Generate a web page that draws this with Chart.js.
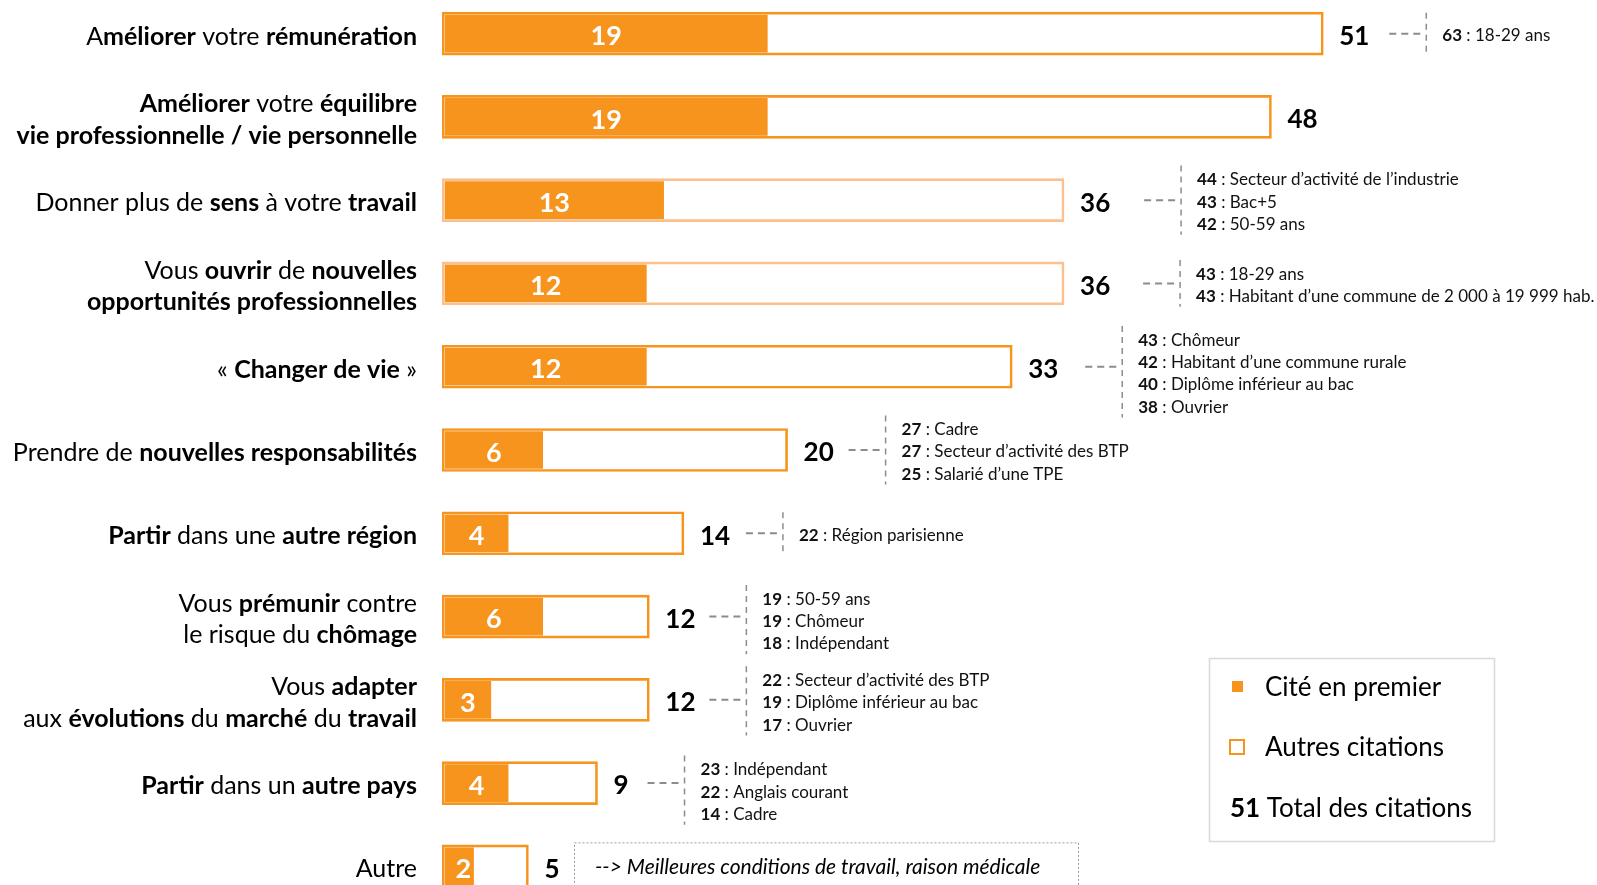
<!DOCTYPE html>
<html>
<head>
<meta charset="utf-8">
<script src="https://cdn.jsdelivr.net/npm/chart.js@4.4.1/dist/chart.umd.min.js"></script>
<style>
  html, body { margin: 0; padding: 0; background: #fff; overflow: hidden; }
  #wrap { position: absolute; left: 0; top: -8px; width: 1597px; height: 916px; }
</style>
</head>
<body>
<div id="wrap"><canvas id="chart"></canvas></div>
<script>
// ** ... ** marks the bold parts of each label
var categories = [
  'A**méliorer** votre **rémunération**',
  ['**Améliorer** votre **équilibre**', '**vie professionnelle / vie personnelle**'],
  'Donner plus de **sens** à votre **travail**',
  ['Vous **ouvrir** de **nouvelles**', '**opportunités professionnelles**'],
  '« **Changer de vie** »',
  'Prendre de **nouvelles responsabilités**',
  '**Partir** dans une **autre région**',
  ['Vous **prémunir** contre', 'le risque du **chômage**'],
  ['Vous **adapter**', 'aux **évolutions** du **marché** du **travail**'],
  '**Partir** dans un **autre pays**',
  'Autre'
];
var premier = [19, 19, 13, 12, 12, 6, 4, 6, 3, 4, 2];
var totals = [51, 48, 36, 36, 33, 20, 14, 12, 12, 9, 5];
var notes = [
  [[63, '18-29 ans']],
  [],
  [[44, 'Secteur d’activité de l’industrie'], [43, 'Bac+5'], [42, '50-59 ans']],
  [[43, '18-29 ans'], [43, 'Habitant d’une commune de 2 000 à 19 999 hab.']],
  [[43, 'Chômeur'], [42, 'Habitant d’une commune rurale'], [40, 'Diplôme inférieur au bac'], [38, 'Ouvrier']],
  [[27, 'Cadre'], [27, 'Secteur d’activité des BTP'], [25, 'Salarié d’une TPE']],
  [[22, 'Région parisienne']],
  [[19, '50-59 ans'], [19, 'Chômeur'], [18, 'Indépendant']],
  [[22, 'Secteur d’activité des BTP'], [19, 'Diplôme inférieur au bac'], [17, 'Ouvrier']],
  [[23, 'Indépendant'], [22, 'Anglais courant'], [14, 'Cadre']],
  []
];
var autreNote = '--> Meilleures conditions de travail, raison médicale';
var legendLabels = ['Cité en premier', 'Autres citations', 'Total des citations'];

var ORANGE = '#F7941D';
var PEACH = '#FBC08C';
var FONT = 'Lato, "Open Sans", sans-serif';
var TOP = 8; // the canvas starts 8px above the page
// where each note block sits: gap after the bar end, and vertical shift
var noteOffset = [66, 0, 80, 79, 73, 61, 62, 60, 60, 50, 0];
var noteShift = [0, 0, 0, 0, 5, 0, 0, 3, 1, 7, 0];
var outlineColors = [ORANGE, ORANGE, PEACH, PEACH, ORANGE, ORANGE, ORANGE, ORANGE, ORANGE, ORANGE, ORANGE];

function drawRich(ctx, line, xRight, y, size) {
  var parts = line.split('**');
  var widths = parts.map(function (p, k) {
    ctx.font = (k % 2 ? 'bold ' : '') + size + 'px ' + FONT;
    return ctx.measureText(p).width;
  });
  var x = xRight - widths.reduce(function (a, b) { return a + b; }, 0);
  ctx.textAlign = 'left';
  parts.forEach(function (p, k) {
    ctx.font = (k % 2 ? 'bold ' : '') + size + 'px ' + FONT;
    ctx.fillText(p, x, y);
    x += widths[k];
  });
}

function line(ctx, x0, y0, x1, y1) {
  ctx.beginPath();
  ctx.moveTo(x0, y0);
  ctx.lineTo(x1, y1);
  ctx.stroke();
}

var labelsPlugin = {
  id: 'labels',
  afterDatasetsDraw: function (chart) {
    var ctx = chart.ctx;
    var xs = chart.scales.x, ys = chart.scales.y;
    ctx.save();
    ctx.textBaseline = 'middle';

    categories.forEach(function (cat, i) {
      var yc = ys.getPixelForValue(i);
      var lines = [].concat(cat);
      ctx.fillStyle = '#000';
      lines.forEach(function (l, k) {
        drawRich(ctx, l, 417, yc + 3 + (k - (lines.length - 1) / 2) * 31.5, 25);
      });

      // first-cited value inside the orange bar
      var x0 = xs.getPixelForValue(0), x1 = xs.getPixelForValue(premier[i]);
      ctx.fillStyle = '#fff';
      ctx.font = 'bold 27px ' + FONT;
      ctx.textAlign = 'center';
      ctx.fillText(premier[i], (x0 + x1) / 2 + (i === 10 ? 4 : 0), yc + 3);

      // total after the bar
      var xe = xs.getPixelForValue(totals[i]);
      ctx.fillStyle = '#000';
      ctx.font = 'bold 26px ' + FONT;
      ctx.textAlign = 'left';
      ctx.fillText(totals[i], xe + 16, yc + 3);

      var list = notes[i];
      if (list.length) {
        var ds = xe + noteOffset[i];
        var vx = ds + 37;
        var yn = yc + noteShift[i];
        var half = Math.max(list.length * 11.2 + 1, 21);
        ctx.strokeStyle = '#8c8c8c';
        ctx.lineWidth = 2;
        ctx.setLineDash([7, 5]);
        line(ctx, ds, yc, ds + 33, yc);
        ctx.lineWidth = 1.5;
        ctx.setLineDash([6, 5]);
        line(ctx, vx, yn - half, vx, yn + half);
        ctx.setLineDash([]);
        list.forEach(function (n, k) {
          var ty = yn + 2 + (k - (list.length - 1) / 2) * 22.4;
          ctx.fillStyle = '#111';
          ctx.font = 'bold 17px ' + FONT;
          ctx.fillText(n[0], vx + 16, ty);
          var w = ctx.measureText(n[0]).width;
          ctx.font = '17px ' + FONT;
          ctx.fillText(' : ' + n[1], vx + 16 + w, ty);
        });
      }
    });

    // dotted box for "Autre"
    var yl = ys.getPixelForValue(categories.length - 1);
    ctx.strokeStyle = '#999';
    ctx.lineWidth = 1;
    ctx.setLineDash([2, 2]);
    ctx.strokeRect(574.5, yl - 23.5, 504, 80);
    ctx.setLineDash([]);
    ctx.fillStyle = '#000';
    ctx.font = 'italic 21px ' + FONT;
    ctx.textAlign = 'left';
    ctx.fillText(autreNote, 595, yl + 1);

    // legend box
    ctx.strokeStyle = '#d9d9d9';
    ctx.lineWidth = 1.5;
    ctx.strokeRect(1209.5, 658.5 + TOP, 285, 183);
    ctx.fillStyle = ORANGE;
    ctx.fillRect(1232, 681 + TOP, 11, 11);
    ctx.strokeStyle = ORANGE;
    ctx.lineWidth = 2;
    ctx.strokeRect(1230, 740 + TOP, 14, 14);
    ctx.fillStyle = '#000';
    ctx.font = '26px ' + FONT;
    ctx.fillText(legendLabels[0], 1265, 688 + TOP);
    ctx.fillText(legendLabels[1], 1265, 748 + TOP);
    ctx.font = 'bold 26px ' + FONT;
    ctx.fillText(totals[0], 1230, 809 + TOP);
    var tw = ctx.measureText(totals[0]).width;
    ctx.font = '26px ' + FONT;
    ctx.fillText(' ' + legendLabels[2], 1230 + tw, 809 + TOP);

    ctx.restore();
  }
};

var ctx = document.getElementById('chart').getContext('2d');
var chart = new Chart(ctx, {
  type: 'bar',
  data: {
    labels: categories.map(function (c) { return [].concat(c).join(' ').replace(/\*\*/g, ''); }),
    datasets: [{
      label: legendLabels[1],
      data: totals,
      backgroundColor: 'rgba(255,255,255,0)',
      borderColor: outlineColors,
      borderWidth: 2,
      borderSkipped: false,
      barThickness: 43,
      grouped: false
    }, {
      label: legendLabels[0],
      data: premier,
      backgroundColor: ORANGE,
      borderColor: '#fff',
      borderWidth: 3,
      borderSkipped: false,
      barThickness: 43,
      grouped: false
    }]
  },
  options: {
    indexAxis: 'y',
    responsive: true,
    maintainAspectRatio: false,
    animation: false,
    layout: { padding: { left: 442, right: 0, top: 0, bottom: 0 } },
    scales: {
      x: { display: false, min: 0, max: 66.84 },
      y: { display: false }
    },
    plugins: {
      legend: { display: false },
      tooltip: { enabled: false }
    }
  },
  plugins: [labelsPlugin]
});
</script>
</body>
</html>
